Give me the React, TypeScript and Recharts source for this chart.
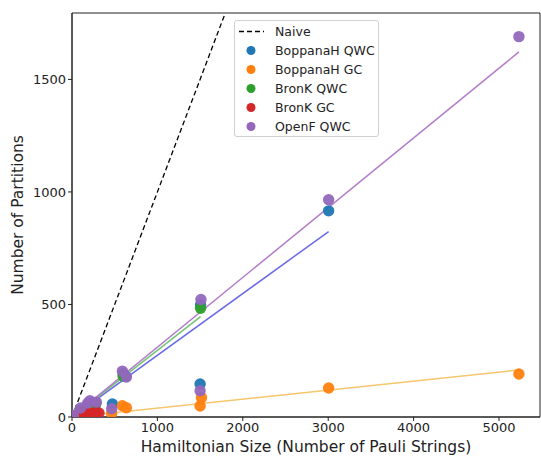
import React from 'react';
import { ComposedChart, Scatter, Line, XAxis, YAxis, ReferenceArea } from 'recharts';

const boppanaQWC = [
  { x: 15, y: 5 }, { x: 100, y: 28 }, { x: 185, y: 55 }, { x: 230, y: 62 }, { x: 276, y: 60 },
  { x: 473, y: 58 }, { x: 600, y: 192 }, { x: 630, y: 180 }, { x: 1500, y: 147 },
  { x: 1505, y: 498 }, { x: 3005, y: 916 },
];
const boppanaGC = [
  { x: 15, y: 2 }, { x: 100, y: 6 }, { x: 185, y: 9 }, { x: 230, y: 10 }, { x: 276, y: 12 },
  { x: 465, y: 16 }, { x: 590, y: 50 }, { x: 637, y: 41 }, { x: 1500, y: 49 },
  { x: 1516, y: 86 }, { x: 3005, y: 129 }, { x: 5233, y: 191 },
];
const bronkQWC = [
  { x: 15, y: 5 }, { x: 100, y: 30 }, { x: 185, y: 50 }, { x: 230, y: 58 }, { x: 276, y: 56 },
  { x: 598, y: 182 }, { x: 1505, y: 483 },
];
const bronkGC = [
  { x: 15, y: 2 }, { x: 60, y: 6 }, { x: 100, y: 12 }, { x: 129, y: 24 }, { x: 185, y: 18 },
  { x: 246, y: 16 }, { x: 280, y: 20 }, { x: 316, y: 18 },
];
const openfQWC = [
  { x: 15, y: 8 }, { x: 100, y: 40 }, { x: 185, y: 62 }, { x: 210, y: 72 }, { x: 285, y: 66 },
  { x: 465, y: 37 }, { x: 590, y: 204 }, { x: 637, y: 178 }, { x: 1500, y: 117 },
  { x: 1510, y: 522 }, { x: 3005, y: 965 }, { x: 5233, y: 1690 },
];

const naiveLine = [{ x: 0, y: 0 }, { x: 1795, y: 1795 }];
const fitBoppanaQWC = [{ x: 15, y: 4 }, { x: 3005, y: 824 }];
const fitBoppanaGC = [{ x: 15, y: 0 }, { x: 5233, y: 209 }];
const fitBronkQWC = [{ x: 15, y: 4 }, { x: 1505, y: 446 }];
const fitBronkGC = [{ x: 15, y: 1 }, { x: 316, y: 20 }];
const fitOpenfQWC = [{ x: 15, y: 5 }, { x: 5233, y: 1622 }];

const xTicks = [0, 1000, 2000, 3000, 4000, 5000];
const yTicks = [0, 500, 1000, 1500];
const xDomain = [0, 5480];
const yDomain = [0, 1795];

const seriesNames = ['BoppanaH QWC', 'BoppanaH GC', 'BronK QWC', 'BronK GC', 'OpenF QWC'];
const seriesColors = ['#1f77b4', '#ff7f0e', '#2ca02c', '#d62728', '#9467bd'];
const FONT = '"DejaVu Sans", sans-serif';

const dot = (color: string) => (props: any) => (
  <circle cx={props.cx} cy={props.cy} r={5.7} fill={color} fillOpacity={0.95} />
);

const YLabel = (props: any) => {
  const vb = props.viewBox;
  const cx = 18;
  const cy = vb.y + vb.height / 2;
  return (
    <text x={cx} y={cy} transform={`rotate(-90, ${cx}, ${cy})`} textAnchor="middle"
      dominantBaseline="central" fontSize={15.5} fill="#222" fontFamily={FONT}>
      Number of Partitions
    </text>
  );
};

export default function App() {
  const scatterData = [boppanaQWC, boppanaGC, bronkQWC, bronkGC, openfQWC];
  const rowStyle: React.CSSProperties = { height: 19, display: 'flex', alignItems: 'center', fontSize: 12.5, color: '#222', whiteSpace: 'nowrap' };
  return (
    <div style={{ position: 'absolute', left: 0, top: 0, width: 541, height: 457, background: '#fff', fontFamily: FONT }}>
      <ComposedChart width={541} height={457} margin={{ top: 13, right: 1, bottom: 0, left: 0 }}>
        <XAxis type="number" dataKey="x" domain={xDomain} ticks={xTicks} allowDataOverflow
          height={40} tickSize={4} stroke="#222" tick={{ fontSize: 13, fill: '#222', fontFamily: FONT }}
          tickLine={{ stroke: '#222' }}
          label={{ value: 'Hamiltonian Size (Number of Pauli Strings)', position: 'insideBottom', offset: 5,
            style: { fontSize: 15.5, fill: '#222', fontFamily: FONT } }} />
        <YAxis type="number" dataKey="y" domain={yDomain} ticks={yTicks} allowDataOverflow
          width={72} tickSize={4} stroke="#222" tick={{ fontSize: 13, fill: '#222', fontFamily: FONT }}
          label={<YLabel />} />
        <ReferenceArea x1={xDomain[0]} x2={xDomain[1]} y1={yDomain[0]} y2={yDomain[1]}
          fill="none" stroke="#222" strokeWidth={1} ifOverflow="visible" />
        <Line data={naiveLine} dataKey="y" stroke="#000" strokeWidth={1.3} strokeDasharray="5 3"
          dot={false} isAnimationActive={false} />
        <Line data={fitBoppanaQWC} dataKey="y" stroke="#6a6ae6" strokeWidth={1.5} dot={false} isAnimationActive={false} />
        <Line data={fitBoppanaGC} dataKey="y" stroke="#f6c66c" strokeWidth={1.5} dot={false} isAnimationActive={false} />
        <Line data={fitBronkQWC} dataKey="y" stroke="#72c472" strokeWidth={1.5} dot={false} isAnimationActive={false} />
        <Line data={fitBronkGC} dataKey="y" stroke="#e06666" strokeWidth={1.5} dot={false} isAnimationActive={false} />
        <Line data={fitOpenfQWC} dataKey="y" stroke="#b27cc8" strokeWidth={1.5} dot={false} isAnimationActive={false} />
        {scatterData.map((d, i) => (
          <Scatter key={seriesNames[i]} name={seriesNames[i]} data={d} fill={seriesColors[i]}
            shape={dot(seriesColors[i])} isAnimationActive={false} />
        ))}
      </ComposedChart>
      <div style={{ position: 'absolute', left: 234, top: 20, width: 145, height: 117, border: '1px solid #d0d0d0',
        borderRadius: 3, background: 'rgba(255,255,255,0.8)', boxSizing: 'border-box', paddingTop: 1 }}>
        <div style={rowStyle}>
          <svg width={40} height={19} style={{ flexShrink: 0 }}><line x1={4} y1={9.5} x2={29} y2={9.5} stroke="#000" strokeWidth={1.3} strokeDasharray="5 3" /></svg>
          <span>Naive</span>
        </div>
        {seriesNames.map((n, i) => (
          <div key={n} style={rowStyle}>
            <svg width={40} height={19} style={{ flexShrink: 0 }}><circle cx={16} cy={9.5} r={4.5} fill={seriesColors[i]} /></svg>
            <span>{n}</span>
          </div>
        ))}
      </div>
    </div>
  );
}
